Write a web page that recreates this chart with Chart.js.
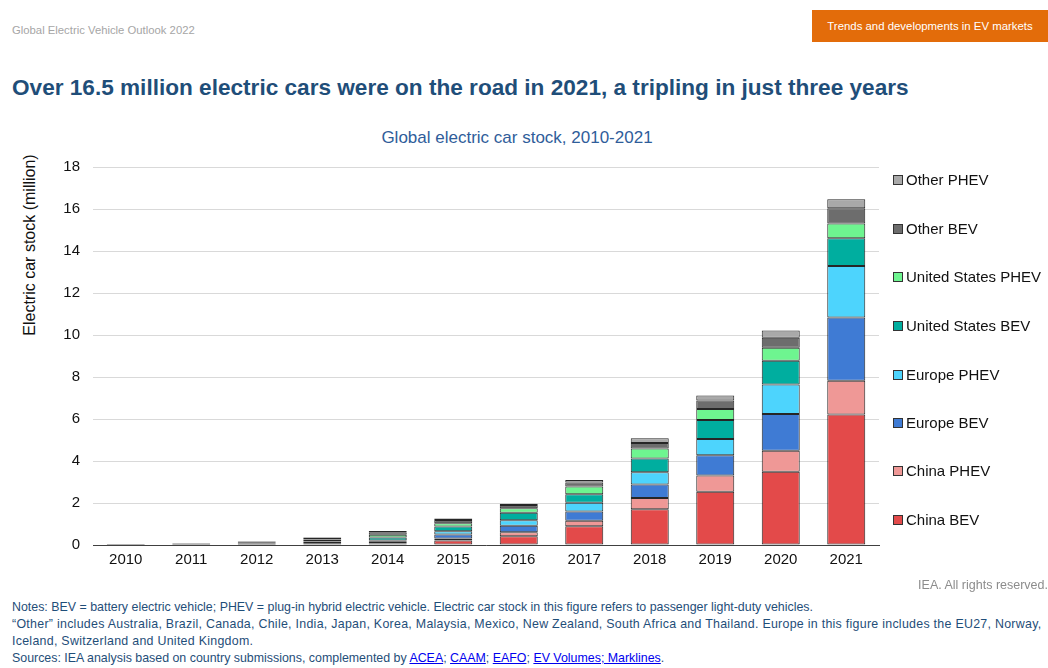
<!DOCTYPE html>
<html>
<head>
<meta charset="utf-8">
<script src="https://cdn.jsdelivr.net/npm/chart.js@4"></script>
<style>
    body { margin: 0; width: 1048px; height: 668px; position: relative; background: #fff; overflow: hidden; font-family: "Liberation Sans", Arial, sans-serif; }
    #report { position: absolute; left: 12px; top: 24px; font-size: 11.3px; color: #a6a6a6; }
    #section { position: absolute; left: 812px; top: 10px; width: 236px; height: 32px; background: #e36c0a; color: #fff; font-size: 11.4px; line-height: 32px; text-align: center; }
    #headline { position: absolute; left: 12px; top: 75px; font-size: 22.6px; font-weight: bold; color: #1f4e79; white-space: nowrap; }
    #chartTitle { position: absolute; left: 0; width: 1034px; top: 128px; text-align: center; font-size: 17px; color: #2f5d9a; }
    #yTitle { position: absolute; left: 30px; top: 245px; transform: translate(-50%, -50%) rotate(-90deg); font-size: 16px; color: #111; white-space: nowrap; }
    #chartBox { position: absolute; left: 0; top: 115px; width: 1034px; height: 463px; }
    #legend { position: absolute; left: 893px; top: 0; }
    .item { position: absolute; left: 0; white-space: nowrap; font-size: 15px; color: #111; line-height: 18px; }
    .swatch { display: inline-block; width: 8px; height: 8px; border: 1px solid #333; margin-right: 3px; vertical-align: 0px; }
    #rights { position: absolute; right: 0; top: 578px; font-size: 12.5px; color: #8c8c8c; }
    #notes { position: absolute; left: 12px; top: 599px; font-size: 12.4px; color: #1f4e79; line-height: 17px; white-space: nowrap; }
    #notes .wide { letter-spacing: 0.28px; }
    #notes a { color: #0000ee; text-decoration: underline; }
</style>
</head>
<body>
<div id="report">Global Electric Vehicle Outlook 2022</div>
<div id="section">Trends and developments in EV markets</div>
<div id="headline">Over 16.5 million electric cars were on the road in 2021, a tripling in just three years</div>
<div id="chartTitle">Global electric car stock, 2010-2021</div>
<div id="yTitle">Electric car stock (million)</div>
<div id="chartBox"><canvas id="stockChart"></canvas></div>
<div id="legend"></div>
<div id="rights">IEA. All rights reserved.</div>
<div id="notes">
    <div>Notes: BEV = battery electric vehicle; PHEV = plug-in hybrid electric vehicle. Electric car stock in this figure refers to passenger light-duty vehicles.</div>
    <div class="wide">“Other” includes Australia, Brazil, Canada, Chile, India, Japan, Korea, Malaysia, Mexico, New Zealand, South Africa and Thailand. Europe in this figure includes the EU27, Norway,<br>Iceland, Switzerland and United Kingdom.</div>
    <div>Sources: IEA analysis based on country submissions, complemented by <a>ACEA</a>; <a>CAAM</a>; <a>EAFO</a>; <a>EV Volumes; Marklines</a>.</div>
</div>
<script>
// stock in millions
const years = ['2010', '2011', '2012', '2013', '2014', '2015', '2016', '2017', '2018', '2019', '2020', '2021'];
const chinaBev   = [0.002, 0.006, 0.010, 0.020, 0.05, 0.22, 0.42, 0.89, 1.70, 2.53, 3.49, 6.21];
const chinaPhev  = [0.000, 0.001, 0.003, 0.005, 0.02, 0.09, 0.19, 0.27, 0.54, 0.78, 1.00, 1.61];
const europeBev  = [0.004, 0.012, 0.020, 0.040, 0.08, 0.19, 0.31, 0.43, 0.64, 0.96, 1.75, 3.01];
const europePhev = [0.001, 0.003, 0.010, 0.030, 0.07, 0.16, 0.26, 0.42, 0.59, 0.78, 1.40, 2.45];
const usBev      = [0.004, 0.020, 0.030, 0.070, 0.14, 0.22, 0.35, 0.41, 0.65, 0.90, 1.13, 1.33];
const usPhev     = [0.001, 0.010, 0.040, 0.100, 0.13, 0.16, 0.22, 0.36, 0.48, 0.53, 0.62, 0.70];
const otherBev   = [0.012, 0.025, 0.050, 0.080, 0.12, 0.15, 0.15, 0.20, 0.26, 0.40, 0.48, 0.72];
const otherPhev  = [0.001, 0.002, 0.010, 0.030, 0.06, 0.07, 0.07, 0.12, 0.22, 0.24, 0.35, 0.44];

const seriesNames = ['China BEV', 'China PHEV', 'Europe BEV', 'Europe PHEV', 'United States BEV', 'United States PHEV', 'Other BEV', 'Other PHEV'];
const seriesData = [chinaBev, chinaPhev, europeBev, europePhev, usBev, usPhev, otherBev, otherPhev];
const seriesColors = ['#e34a4a', '#ef9896', '#3f7bd4', '#4dd4fd', '#00ae9f', '#6ef590', '#6d6d6d', '#a9a9a9'];

const font = "'Liberation Sans', Arial, sans-serif";

const datasets = seriesNames.map((name, i) => ({
    label: name,
    data: seriesData[i],
    backgroundColor: seriesColors[i],
    borderColor: 'rgba(0, 0, 0, 0.85)',
    borderWidth: 1,
    borderSkipped: false,
    barPercentage: 0.58,
    categoryPercentage: 1.0
}));

const chart = new Chart(document.getElementById('stockChart'), {
    type: 'bar',
    data: { labels: years, datasets: datasets },
    options: {
        responsive: true,
        maintainAspectRatio: false,
        animation: false,
        layout: { padding: { left: 18, right: 155, bottom: 3, top: 52 } },
        plugins: {
            legend: { display: false },
            tooltip: { enabled: false },
            title: { display: false }
        },
        scales: {
            x: {
                stacked: true,
                grid: { display: false, drawTicks: false },
                border: { display: true, color: '#404040', width: 1 },
                ticks: { color: '#111', font: { family: font, size: 15 }, padding: 6 }
            },
            y: {
                stacked: true,
                min: 0,
                max: 18,
                afterFit: scale => { scale.width = 75; },
                grid: { color: '#d9d9d9', lineWidth: 1, drawTicks: false },
                border: { display: false },
                ticks: { stepSize: 2, color: '#111', font: { family: font, size: 15 }, padding: 13 }
            }
        }
    }
});

// legend on the right, top entry first
const legendBox = document.getElementById('legend');
const legendTops = [171, 220, 268, 317, 366, 414, 462, 511];
chart.data.datasets.slice().reverse().forEach((ds, i) => {
    const row = document.createElement('div');
    row.className = 'item';
    row.style.top = legendTops[i] + 'px';
    row.innerHTML = '<span class="swatch" style="background:' + ds.backgroundColor + '"></span>' + ds.label;
    legendBox.appendChild(row);
});
</script>
</body>
</html>
